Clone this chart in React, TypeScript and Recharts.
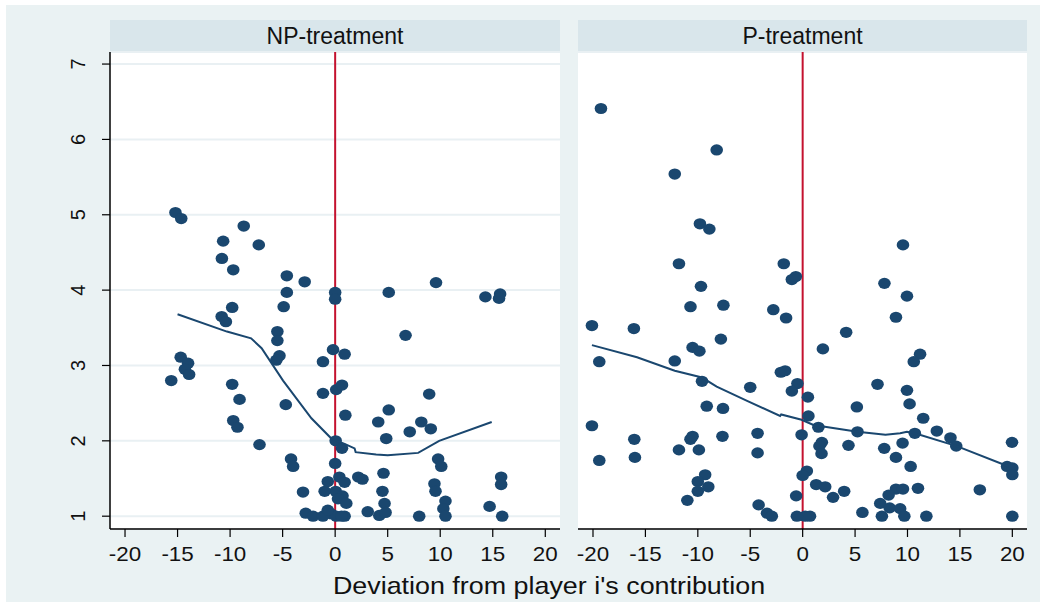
import React from "react";
import {
  ScatterChart,
  Scatter,
  XAxis,
  YAxis,
  CartesianGrid,
  ReferenceLine,
} from "recharts";

// NP-treatment: deviation (x) vs response (y)
const npX = [
  -15.2, -14.65, -8.7, -10.66, -7.27, -10.78, -9.7, -4.6, -2.9, -4.6, 0, 0, 5.1, 9.6, 14.3, 15.7, 15.6,
  -4.9, -9.8, -10.8, -10.4, 6.7, -5.5, -5.5, -5.3, -5.6, -0.2, 0.9, -1.16, -14.7, -14.0, -14.3, -13.9,
  -15.6, -9.8, -9.1, -4.7, -1.16, 0.1, 0.65, 0.97, 8.95, 5.1, 4.1, 8.2, 9.1, 7.1, 4.86, -9.7, -9.3,
  -7.2, -4.2, -4.0, 0.05, 0.65, 0, 9.8, 10.1, 0.4, 0.9, -0.7, 2.2, 2.6, 4.6, 4.5, 0.05, 0.7, 0.27,
  1.06, 4.7, 9.45, 9.55, 10.5, 10.3, 10.5, 15.8, 15.8, 14.7, 15.9, 3.1, 4.2, 4.8, 8.0, -0.36, 0.1,
  0.9, 0.6, -3.06, -1.0, -2.8, -2.1, -1.16, -0.7,
];
const npY = [
  5.03, 4.95, 4.85, 4.65, 4.6, 4.42, 4.27, 4.19, 4.11, 3.97, 3.97, 3.88, 3.97, 4.1, 3.91, 3.95, 3.89,
  3.78, 3.77, 3.65, 3.58, 3.4, 3.45, 3.33, 3.13, 3.07, 3.21, 3.15, 3.05, 3.11, 3.03, 2.95, 2.88,
  2.8, 2.75, 2.55, 2.48, 2.63, 2.68, 2.74, 2.34, 2.62, 2.41, 2.25, 2.25, 2.16, 2.12, 2.03, 2.27, 2.18,
  1.95, 1.76, 1.66, 2.0, 1.9, 1.7, 1.76, 1.66, 1.52, 1.45, 1.46, 1.52, 1.49, 1.57, 1.33, 1.33, 1.27, 1.23,
  1.17, 1.17, 1.43, 1.33, 1.2, 1.1, 1.0, 1.52, 1.42, 1.13, 1.0, 1.06, 1.01, 1.05, 1.0, 1.03, 1.0,
  1.0, 1.0, 1.32, 1.33, 1.04, 1.0, 1.0, 1.08,
];
const npLowessX = [-15.0, -10.3, -8.0, -7.0, -4.96, -2.26, -0.36, 0.9, 1.85, 1.95, 3.9, 5.0, 7.9, 9.9, 14.9];
const npLowessY = [3.68, 3.45, 3.36, 3.23, 2.8, 2.3, 2.03, 1.96, 1.9, 1.85, 1.82, 1.81, 1.84, 2.0, 2.25];

// P-treatment
const pX = [
  -19.24, -8.2, -12.2, -9.8, -8.9, -11.8, -1.8, -1.03, -0.65, -9.7, 9.57, 7.8, 9.95, 8.9, 4.15, 1.93,
  11.2, 10.6, 7.14, 9.95, -0.5, 0.5, 10.2, 5.17, 0.55, 11.5, 1.5, 12.8, 5.23, 10.7, -0.1, 14.1, 14.65,
  1.83, 1.6, 4.37, 7.78, 9.53, 1.8, 8.9, 10.3, 19.97, 19.5, 20, 20, 0.4, 0, 1.29, 2.15, 3.96, 2.9, 8.9,
  9.57, 11.0, 8.2, 16.9, 7.4, 8.3, 9.3, 5.7, 7.56, 9.7, 11.8, 20, 0.7, 0.24, -0.55, -0.62, -20.1,
  -16.1, -19.4, -10.7, -7.56, -2.8, -1.58, -7.8, -10.5, -9.85, -12.2, -2.08, -1.67, -1.03, -9.6, -5.0,
  -9.15, -7.6, -20.1, -4.3, -16.06, -10.7, -10.5, -7.65, -11.8, -9.9, -4.3, -19.4, -16.0, -9.3, -10.0,
  -9.0, -10.0, -11.0, -4.2, -3.4, -2.94,
];
const pY = [
  6.41, 5.86, 5.54, 4.88, 4.81, 4.35, 4.35, 4.14, 4.18, 4.05, 4.6, 4.09, 3.92, 3.64, 3.44, 3.22,
  3.15, 3.05, 2.75, 2.67, 2.76, 2.58, 2.49, 2.45, 2.33, 2.3, 2.18, 2.13, 2.12, 2.1, 2.08, 2.04, 1.93,
  1.98, 1.93, 1.94, 1.9, 1.97, 1.83, 1.78, 1.66, 1.98, 1.66, 1.64, 1.55, 1.6, 1.54, 1.42, 1.39, 1.33, 1.25, 1.36,
  1.36, 1.37, 1.28, 1.35, 1.17, 1.11, 1.1, 1.05, 1.0, 1.0, 1.0, 1.0, 1.0, 1.0, 1.0, 1.27, 3.53,
  3.49, 3.05, 3.78, 3.8, 3.74, 3.63, 3.35, 3.24, 3.19, 3.06, 2.91, 2.93, 2.66, 2.79, 2.71,
  2.46, 2.43, 2.2, 2.1, 2.02, 2.02, 2.06, 2.06, 1.88, 1.88, 1.84, 1.74, 1.78, 1.55, 1.46,
  1.39, 1.33, 1.21, 1.15, 1.04, 1.0,
];
const pLowessX = [-20.1, -15.8, -12.2, -9.6, -8.2, -5.3, -2.15, -2.05, -0.1, 1.03, 5.23, 7.9, 9.3, 9.95, 10.7, 14.7, 19.65];
const pLowessY = [3.27, 3.11, 2.93, 2.84, 2.72, 2.53, 2.33, 2.35, 2.28, 2.21, 2.12, 2.08, 2.1, 2.12, 2.1, 1.93, 1.66];

const xTicks = [-20, -15, -10, -5, 0, 5, 10, 15, 20];
const yTicks = [1, 2, 3, 4, 5, 6, 7];
const panels = ["NP-treatment", "P-treatment"];

const NAVY = "#1a476f";
const RED = "#c4122f";
const FONT = "'Liberation Sans', Arial, Helvetica, sans-serif";
const X_DOMAIN: [number, number] = [-21.43, 21.4];
const Y_DOMAIN: [number, number] = [0.83, 7.16];

const zip = (xs: number[], ys: number[]) => xs.map((x, i) => ({ x, y: ys[i] }));

function Dot(props: any) {
  if (props.cx == null || props.cy == null) return <g />;
  return <ellipse cx={props.cx} cy={props.cy} rx={6.3} ry={5.6} fill={NAVY} />;
}

function XTick({ x, y, payload }: any) {
  return (
    <g transform={`translate(${x},${y + 22})`}>
      <text textAnchor="middle" fontSize={20} fontFamily={FONT} fill="#111" transform="scale(1.12,1)">
        {payload.value}
      </text>
    </g>
  );
}

function YTick({ x, y, payload }: any) {
  return (
    <g transform={`translate(${x - 15},${y}) rotate(-90)`}>
      <text textAnchor="middle" fontSize={20} fontFamily={FONT} fill="#111">
        {payload.value}
      </text>
    </g>
  );
}

function Panel({ points, lowess, showY, margin, width }: any) {
  return (
    <ScatterChart width={width} height={606} margin={margin}>
      <CartesianGrid vertical={false} stroke="#e9f0f3" strokeWidth={2} fill="#ffffff" />
      <XAxis
        type="number"
        dataKey="x"
        domain={X_DOMAIN}
        ticks={xTicks}
        allowDataOverflow
        height={40}
        tickSize={8}
        tickMargin={2}
        axisLine={{ stroke: "#000", strokeWidth: 1.5 }}
        tickLine={{ stroke: "#000", strokeWidth: 1.2 }}
        tick={<XTick />}
      />
      <YAxis
        type="number"
        dataKey="y"
        domain={Y_DOMAIN}
        ticks={yTicks}
        allowDataOverflow
        width={showY ? 60 : 0}
        tickSize={showY ? 8 : 0}
        axisLine={showY ? { stroke: "#000", strokeWidth: 1.5 } : false}
        tickLine={showY ? { stroke: "#000", strokeWidth: 1.2 } : false}
        tick={showY ? <YTick /> : false}
      />
      <ReferenceLine x={0} stroke={RED} strokeWidth={2} />
      <Scatter data={points} shape={<Dot />} isAnimationActive={false} />
      <Scatter
        data={lowess}
        line={{ stroke: NAVY, strokeWidth: 2 }}
        lineType="joint"
        shape={() => <g />}
        isAnimationActive={false}
      />
    </ScatterChart>
  );
}

export default function App() {
  const np = zip(npX, npY);
  const p = zip(pX, pY);
  const npLow = zip(npLowessX, npLowessY);
  const pLow = zip(pLowessX, pLowessY);

  const strip = (left: number, width: number, label: string) => (
    <div
      style={{
        position: "absolute",
        left,
        top: 20,
        width,
        height: 32,
        background: "#d9e6eb",
        display: "flex",
        alignItems: "center",
        justifyContent: "center",
        fontFamily: FONT,
        fontSize: 23,
        color: "#111",
      }}
    >
      {label}
    </div>
  );

  return (
    <div style={{ position: "absolute", left: 0, top: 0, width: 1058, height: 606, background: "#fff", overflow: "hidden" }}>
      <div style={{ position: "absolute", left: 6, top: 5, width: 1034, height: 597, background: "#eaf2f3" }} />
      {strip(110, 450, panels[0])}
      {strip(578, 449, panels[1])}
      <div style={{ position: "absolute", left: 0, top: 0 }}>
        <Panel points={np} lowess={npLow} showY width={570} margin={{ top: 52, right: 10, bottom: 37, left: 50 }} />
      </div>
      <div style={{ position: "absolute", left: 570, top: 0 }}>
        <Panel points={p} lowess={pLow} showY={false} width={488} margin={{ top: 52, right: 31, bottom: 37, left: 8 }} />
      </div>
      <svg width={1058} height={606} style={{ position: "absolute", left: 0, top: 0, pointerEvents: "none" }}>
        <text
          transform="translate(549,594) scale(1.12,1)"
          textAnchor="middle"
          fontSize={24}
          fontFamily={FONT}
          fill="#111"
        >
          Deviation from player i's contribution
        </text>
      </svg>
    </div>
  );
}
